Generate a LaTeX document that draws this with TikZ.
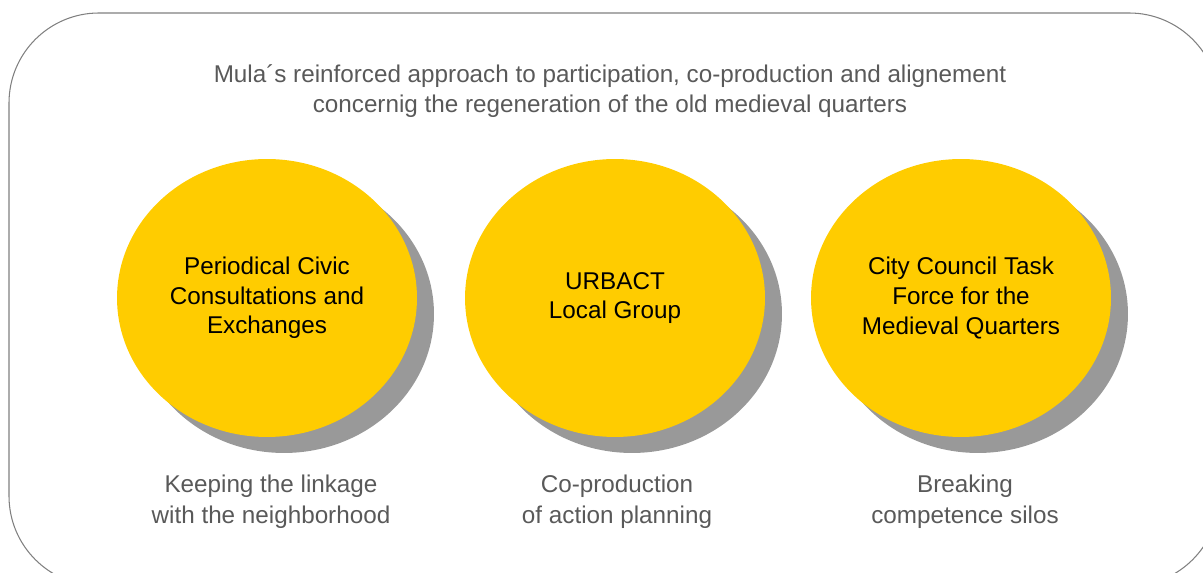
\documentclass[tikz,border=0pt]{standalone}
\usepackage{fontspec}
\setmainfont{Liberation Sans}
\usetikzlibrary{shapes.geometric,shadows,positioning}
\definecolor{pillar}{HTML}{FFCC00}
\definecolor{note}{HTML}{595959}
\definecolor{frame}{HTML}{808080}
\tikzset{
  pillar/.style={
    shape = ellipse,
    fill = pillar,
    minimum width = 6cm,
    minimum height = 5.56cm,
    align = center,
    font = \fontsize{13.8}{16.9}\selectfont,
    drop shadow = {shadow xshift=0.34cm, shadow yshift=-0.32cm,
                   fill=black!40, opacity=1}
  },
  note/.style={
    align = center,
    text = note,
    font = \fontsize{13.8}{17.4}\selectfont
  },
}

\begin{document}
\begin{tikzpicture}[x=0.02cm, y=-0.02cm]
  \useasboundingbox (0,0) rectangle (1203,573);
  \clip (0,0) rectangle (1203,573);
  \draw[frame, line width=0.6pt, rounded corners=1.8cm] (9,13) rectangle (1219,586);

  \node[note] (title) at (610,91)
    {Mula´s reinforced approach to participation, co-production and alignement\\
     concernig the regeneration of the old medieval quarters};

  \node[pillar] (civic) at (267,298) {Periodical Civic\\Consultations and\\Exchanges};
  \node[pillar] (ulg)   at (615,298) {URBACT\\Local Group};
  \node[pillar] (task)  at (961,298) {City Council Task\\Force for the\\Medieval Quarters};

  \node[note] (civicnote) at (271,502) {Keeping the linkage\\with the neighborhood};
  \node[note] (ulgnote)   at (617,502) {Co-production\\of action planning};
  \node[note] (tasknote)  at (965,502) {Breaking\\competence silos};
\end{tikzpicture}
\end{document}
